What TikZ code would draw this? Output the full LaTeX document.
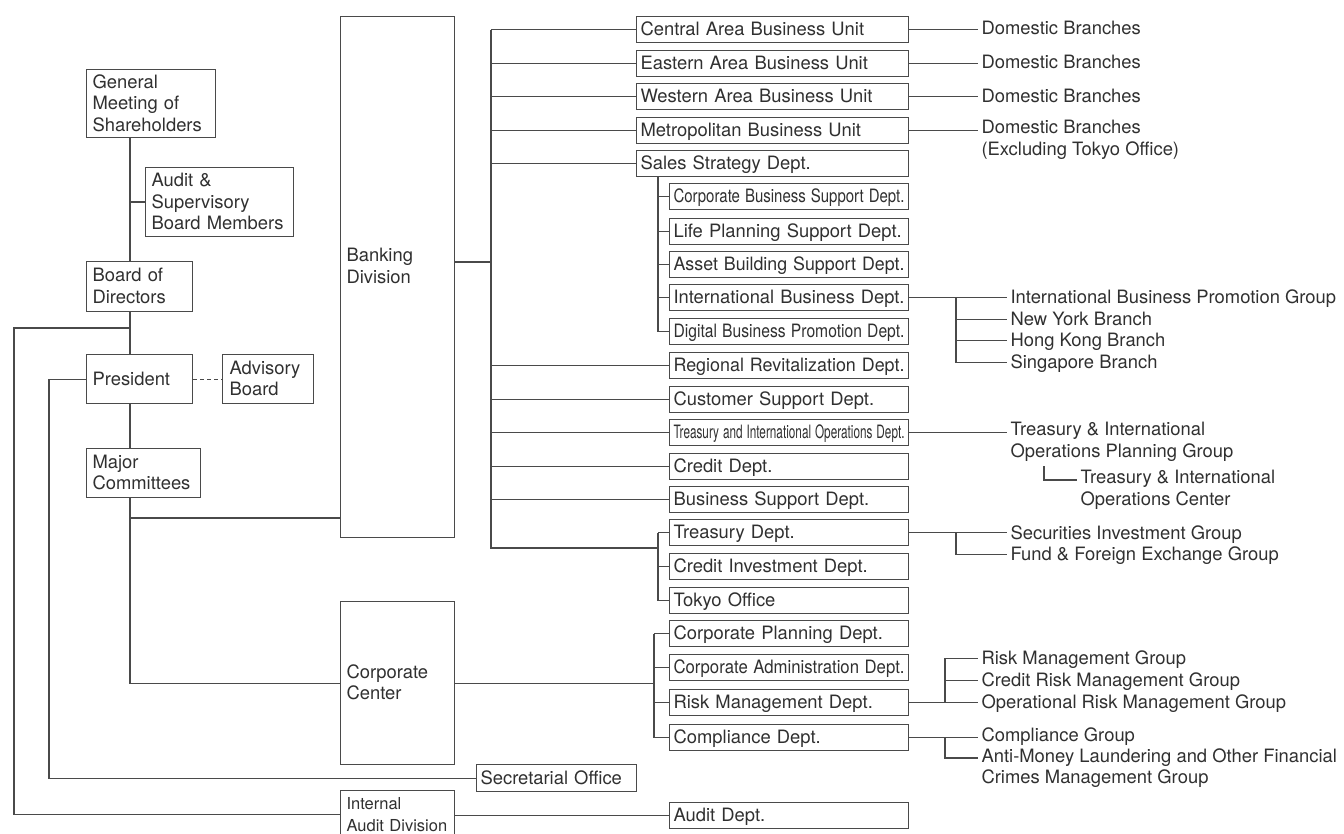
\documentclass[tikz,border=0pt]{standalone}
\usepackage{fontspec}
\setmainfont{TeX Gyre Heros}
\usepackage{graphicx}
\usetikzlibrary{calc}

\definecolor{linec}{HTML}{4A4A4A}
\definecolor{txtc}{HTML}{303030}

\newcommand\chartfont{\fontsize{18.4}{21.5}\selectfont}
\newcommand\iadfont{\fontsize{16.5}{22}\selectfont}
% fixed struts so every line sits at the same height in its box
\newcommand\tst{\rule{0pt}{16pt}}
\newcommand\bst{\rule[-4pt]{0pt}{4pt}}
% squeeze a text horizontally when it is wider than its box
\newsavebox\fitbox
\newcommand\fitw[2]{\sbox\fitbox{#2}\ifdim\wd\fitbox>#1\relax\resizebox{#1}{\height}{\usebox\fitbox}\else\usebox\fitbox\fi}
\newcommand\dtxt[1]{\fitw{231pt}{#1}}

\tikzset{
  box/.style={draw=linec, line width=1.1pt, anchor=north west, inner ysep=0pt,
    inner xsep=6pt, align=left, execute at begin node=\tst, execute at end node=\bst},
  ubox/.style={box, inner xsep=4pt, text width=264pt, minimum height=26pt},
  dbox/.style={box, inner xsep=4pt, text width=231pt, minimum height=26pt},
  lbl/.style={anchor=north west, inner xsep=3pt, inner ysep=0pt, align=left,
    execute at begin node=\tst, execute at end node=\bst},
}

\begin{document}
\begin{tikzpicture}[x=1pt, y=-1pt, color=linec, line width=1.1pt,
  every node/.append style={text=txtc, font=\chartfont}]
\useasboundingbox (0,0) rectangle (1344,834);

% ---- governance column ----
\node[box, text width=117pt, minimum height=68pt] (gms) at (86,69) {General\\Meeting of\\Shareholders};
\node[box, text width=136pt, minimum height=69pt] (asb) at (145,167) {Audit \&\\Supervisory\\Board Members};
\node[box, text width=94pt, minimum height=50pt] (bod) at (86,261) {Board of\\Directors};
\node[box, text width=94pt, minimum height=49pt] (pres) at (86,354) {President};
\node[box, inner xsep=7pt, text width=77pt, minimum height=49pt] (adv) at (222,354) {Advisory\\Board};
\node[box, text width=102pt, minimum height=49pt] (mc) at (86,448) {Major\\Committees};

% ---- divisions ----
\node[box, minimum width=114pt, minimum height=521pt] (bank) at (340,16) {};
\node[lbl] (banktxt) at (343,248) {Banking\\Division};
\node[box, text width=102pt, minimum height=163pt] (cc) at (340,601) {Corporate\\Center};
\node[box, inner xsep=4pt, text width=152pt, minimum height=27pt] (sec) at (476,764) {Secretarial Office};
\node[box, text width=102pt, minimum height=48pt, font=\iadfont] (iad) at (340,790) {Internal\\Audit Division};

% ---- business units ----
\node[ubox] (cen) at (636,16)  {Central Area Business Unit};
\node[ubox] (eas) at (636,50)  {Eastern Area Business Unit};
\node[ubox] (wes) at (636,83)  {Western Area Business Unit};
\node[ubox] (met) at (636,117) {Metropolitan Business Unit};
\node[ubox] (sal) at (636,150) {Sales Strategy Dept.};

% ---- departments ----
\node[dbox] (cbs) at (669,183) {\dtxt{Corporate Business Support Dept.}};
\node[dbox] (lps) at (669,218) {\dtxt{Life Planning Support Dept.}};
\node[dbox] (abs) at (669,251) {\dtxt{Asset Building Support Dept.}};
\node[dbox] (ibd) at (669,284) {\dtxt{International Business Dept.}};
\node[dbox] (dbp) at (669,318) {\dtxt{Digital Business Promotion Dept.}};
\node[dbox] (rrd) at (669,352) {\dtxt{Regional Revitalization Dept.}};
\node[dbox] (csd) at (669,386) {\dtxt{Customer Support Dept.}};
\node[dbox] (tio) at (669,419) {\dtxt{Treasury and International Operations Dept.}};
\node[dbox] (crd) at (669,453) {\dtxt{Credit Dept.}};
\node[dbox] (bsd) at (669,486) {\dtxt{Business Support Dept.}};
\node[dbox] (tre) at (669,519) {\dtxt{Treasury Dept.}};
\node[dbox] (cid) at (669,553) {\dtxt{Credit Investment Dept.}};
\node[dbox] (tok) at (669,587) {\dtxt{Tokyo Office}};
\node[dbox] (cpd) at (669,620) {\dtxt{Corporate Planning Dept.}};
\node[dbox] (cad) at (669,654) {\dtxt{Corporate Administration Dept.}};
\node[dbox] (rmd) at (669,689) {\dtxt{Risk Management Dept.}};
\node[dbox] (cmp) at (669,724) {\dtxt{Compliance Dept.}};
\node[dbox] (aud) at (669,802) {\dtxt{Audit Dept.}};

% ---- groups and branches ----
\node[lbl] (db1) at (978,18)  {Domestic Branches};
\node[lbl] (db2) at (978,52)  {Domestic Branches};
\node[lbl] (db3) at (978,86)  {Domestic Branches};
\node[lbl] (db4) at (978,120) {Domestic Branches\\(Excluding Tokyo Office)};
\node[lbl] (ibpg) at (1007,287) {International Business Promotion Group};
\node[lbl] (nyb)  at (1007,309) {New York Branch};
\node[lbl] (hkb)  at (1007,330) {Hong Kong Branch};
\node[lbl] (sgb)  at (1007,352) {Singapore Branch};
\node[lbl] (tiopg) at (1007,422) {Treasury \& International\\Operations Planning Group};
\node[lbl] (tioc)  at (1077,470) {Treasury \& International\\Operations Center};
\node[lbl] (sig) at (1007,523) {Securities Investment Group};
\node[lbl] (ffx) at (1007,544) {Fund \& Foreign Exchange Group};
\node[lbl] (rmg)  at (978,648) {Risk Management Group};
\node[lbl] (crmg) at (978,670) {Credit Risk Management Group};
\node[lbl] (ormg) at (978,692) {Operational Risk Management Group};
\node[lbl] (cg)   at (978,725) {Compliance Group};
\node[lbl] (aml)  at (978,748) {Anti-Money Laundering and Other Financial\\Crimes Management Group};

% ---- governance connectors ----
\coordinate (sp) at (130,0);
\draw (gms.south -| sp) -- (bod.north -| sp);
\draw (sp |- asb.west) -- (asb.west);
\draw (bod.south -| sp) -- (pres.north -| sp);
\draw (pres.south -| sp) -- (mc.north -| sp);
\draw (mc.south -| sp) -- (sp |- cc.west) -- (cc.west);
\coordinate (jb) at (130,518);
\draw (jb) -- (jb -| bank.west);
\draw[dash pattern=on 4pt off 3pt] (pres.east) -- (adv.west);
\coordinate (jd) at (130,328);
\coordinate (lx1) at (14,0);
\draw (jd) -- (jd -| lx1) -- (lx1 |- iad.west) -- (iad.west);
\coordinate (lx2) at (49,0);
\draw (pres.west) -- (pres.west -| lx2) -- (lx2 |- sec.west) -- (sec.west);
\draw (iad.east |- aud.west) -- (aud.west);

% ---- banking division bus ----
\coordinate (bx) at (491,262);
\draw (bank.east |- bx) -- (bx);
\coordinate (tb) at (658,548);
\draw (bx |- cen.west) -- (bx |- tb) -- (tb);
\foreach \n in {cen,eas,wes,met,sal,rrd,csd,tio,crd,bsd}
  \draw (bx |- \n.west) -- (\n.west);
\draw (tb |- tre.west) -- (tb |- tok.west);
\foreach \n in {tre,cid,tok}
  \draw (tb |- \n.west) -- (\n.west);
\coordinate (sx) at (658,0);
\draw (sal.south -| sx) -- (sx |- dbp.west);
\foreach \n in {cbs,lps,abs,ibd,dbp}
  \draw (sx |- \n.west) -- (\n.west);

% ---- corporate center bus ----
\coordinate (cx) at (654,0);
\draw (cc.east) -- (cc.east -| cx);
\draw (cx |- cpd.west) -- (cx |- cmp.west);
\foreach \n in {cpd,cad,rmd,cmp}
  \draw (cx |- \n.west) -- (\n.west);

% ---- right-hand links ----
\draw (cen.east) -- (cen.east -| db1.west);
\draw (eas.east) -- (eas.east -| db2.west);
\draw (wes.east) -- (wes.east -| db3.west);
\draw (met.east) -- (met.east -| db4.west);
\coordinate (ix) at (956,0);
\draw (ibd.east) -- (ibd.east -| ibpg.west);
\draw (ix |- ibd.east) -- (ix |- sgb.west) -- (sgb.west);
\draw (ix |- nyb.west) -- (nyb.west);
\draw (ix |- hkb.west) -- (hkb.west);
\draw (tio.east) -- (tio.east -| tiopg.west);
\coordinate (tix) at (1044,466);
\draw (tix) |- ($(tioc.north west)+(0,10)$);
\draw (tre.east) -- (tre.east -| sig.west);
\draw (ix |- tre.east) -- (ix |- ffx.west) -- (ffx.west);
\coordinate (rx) at (945,0);
\draw (rmd.east) -- (rmd.east -| rx) -- (rx |- rmg.west) -- (rmg.west);
\draw (rx |- crmg.west) -- (crmg.west);
\draw (rx |- ormg.west) -- (ormg.west);
\draw (cmp.east) -- (cmp.east -| cg.west);
\coordinate (amlin) at ($(aml.north west)+(0,10)$);
\draw (rx |- cmp.east) -- (rx |- amlin) -- (amlin);
\end{tikzpicture}
\end{document}
